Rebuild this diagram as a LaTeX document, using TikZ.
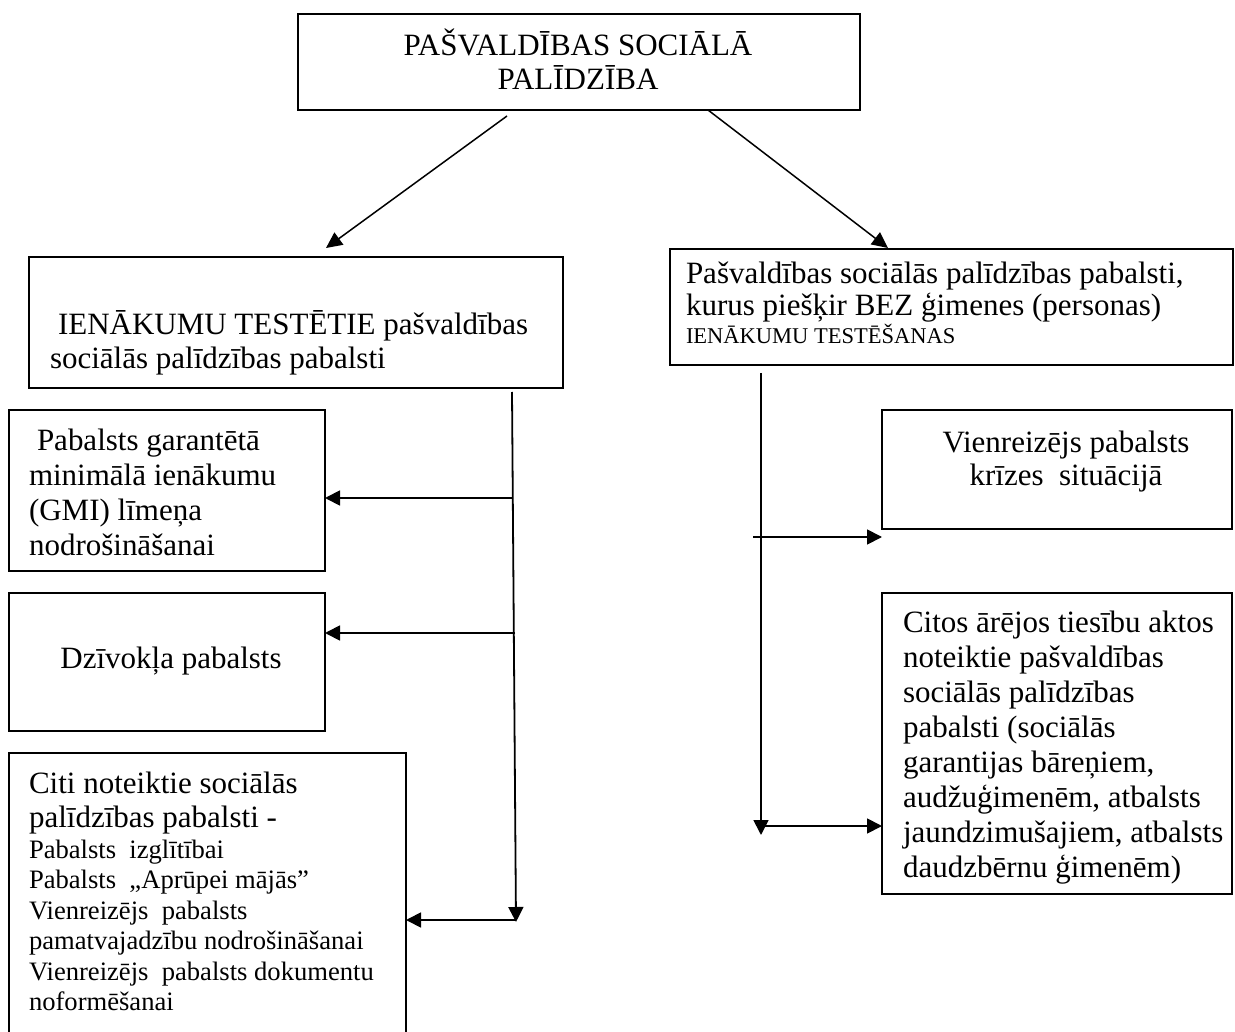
\documentclass[tikz,border=0pt]{standalone}
\usepackage{fontspec}
\setmainfont{Liberation Serif}
\usetikzlibrary{arrows.meta}
\newcommand\LftLines[2]{\vtop{\baselineskip=#1pt\relax\lineskiplimit=-100pt\relax\halign{##\hfil\cr#2\crcr}}}
\newcommand\CtrLines[2]{\vtop{\baselineskip=#1pt\relax\lineskiplimit=-100pt\relax\halign{\hfil##\hfil\cr#2\crcr}}}
\newcommand\fbig{\fontsize{31}{34}\selectfont}
\newcommand\fmid{\fontsize{26.6}{30.5}\selectfont}
\newcommand\fsmall{\fontsize{22.5}{26}\selectfont}
\tikzset{
  box/.style={draw, rectangle, line width=1.8pt, inner sep=0pt, outer sep=0pt},
  conn/.style={line width=1.8pt, -{Triangle[length=15pt,width=15pt]}},
  thinconn/.style={line width=1.5pt, -{Triangle[length=16pt,width=15pt]}},
  plain/.style={line width=1.8pt},
  txt/.style={inner sep=0pt, outer sep=0pt}
}
\begin{document}
\begin{tikzpicture}[x=1pt,y=-1pt]
\useasboundingbox (0,0) rectangle (1235,1032);
\clip (0,0) rectangle (1235,1032);
\fill[white] (0,0) rectangle (1235,1032);
% boxes
\node[box, minimum width=562pt, minimum height=96pt] (top) at (579,62) {};
\node[box, minimum width=534pt, minimum height=131pt] (inc) at (296,322.5) {};
\node[box, minimum width=563pt, minimum height=116pt] (bez) at (951.5,307) {};
\node[box, minimum width=316pt, minimum height=161pt] (gmi) at (167,490.5) {};
\node[box, minimum width=316pt, minimum height=138pt] (dziv) at (167,662) {};
\node[box, minimum width=397pt, minimum height=292pt] (citi) at (207.5,899) {};
\node[box, minimum width=350pt, minimum height=119pt] (vien) at (1057,469.5) {};
\node[box, minimum width=350pt, minimum height=301pt] (citos) at (1057,743.5) {};
% texts
\node[txt, anchor=base] (topT) at (578,56) {\fbig\CtrLines{34}{PAŠVALDĪBAS SOCIĀLĀ\cr PALĪDZĪBA}};
\node[txt, anchor=base west] (incT) at (50,335) {\fbig\LftLines{34}{\hspace{8pt}IENĀKUMU TESTĒTIE pašvaldības\cr sociālās palīdzības pabalsti}};
\node[txt, anchor=base west] (bezT) at (686,284) {\fbig\LftLines{32}{Pašvaldības sociālās palīdzības pabalsti,\cr kurus piešķir BEZ ģimenes (personas)}};
\node[txt, anchor=base west] (bezS) at (686,344) {\fsmall IENĀKUMU TESTĒŠANAS};
\node[txt, anchor=base west] (gmiT) at (29,450) {\fbig\LftLines{35}{\hspace{8pt}Pabalsts garantētā\cr minimālā ienākumu\cr (GMI) līmeņa\cr nodrošināšanai}};
\node[txt, anchor=base] (dzivT) at (171,668) {\fbig Dzīvokļa pabalsts};
\node[txt, anchor=base west] (citiT) at (29,793) {\fbig\LftLines{34}{Citi noteiktie sociālās\cr palīdzības pabalsti -}};
\node[txt, anchor=base west] (citiS) at (29,858) {\fmid\LftLines{30.5}{Pabalsts\ \ izglītībai\cr Pabalsts\ \ „Aprūpei mājās”\cr Vienreizējs\ \ pabalsts\cr pamatvajadzību nodrošināšanai\cr Vienreizējs\ \ pabalsts dokumentu\cr noformēšanai}};
\node[txt, anchor=base] (vienT) at (1066,452) {\fbig\CtrLines{33}{Vienreizējs pabalsts\cr krīzes\ \ situācijā}};
\node[txt, anchor=base west] (citosT) at (903,632) {\fbig\LftLines{35}{Citos ārējos tiesību aktos\cr noteiktie pašvaldības\cr sociālās palīdzības\cr pabalsti (sociālās\cr garantijas bāreņiem,\cr audžuģimenēm, atbalsts\cr jaundzimušajiem, atbalsts\cr daudzbērnu ģimenēm)}};
% connector coordinates
\coordinate (a1) at (507,116);
\coordinate (a1e) at (326,248);
\coordinate (a2) at (708,110);
\coordinate (a2e) at (888,248);
\coordinate (L1) at (512,392);
\coordinate (L2) at (516,922);
\coordinate (LB1) at (513,498);
\coordinate (LB2) at (515,633);
\coordinate (LB3) at (516,920);
\coordinate (R1) at (761,373);
\coordinate (R2) at (761,835);
\coordinate (RB1) at (753,537);
\coordinate (RB2) at (761,826);
% connectors
\draw[thinconn] (a1) -- (a1e);
\draw[thinconn] (a2) -- (a2e);
\draw[conn] (L1) -- (L2);
\draw[conn] (LB1) -- (LB1 -| gmi.east);
\draw[conn] (LB2) -- (LB2 -| dziv.east);
\draw[conn] (LB3) -- (LB3 -| citi.east);
\draw[conn] (R1) -- (R2);
\draw[conn] (RB1) -- (RB1 -| vien.west);
\draw[conn] (RB2) -- (RB2 -| citos.west);
\end{tikzpicture}
\end{document}
